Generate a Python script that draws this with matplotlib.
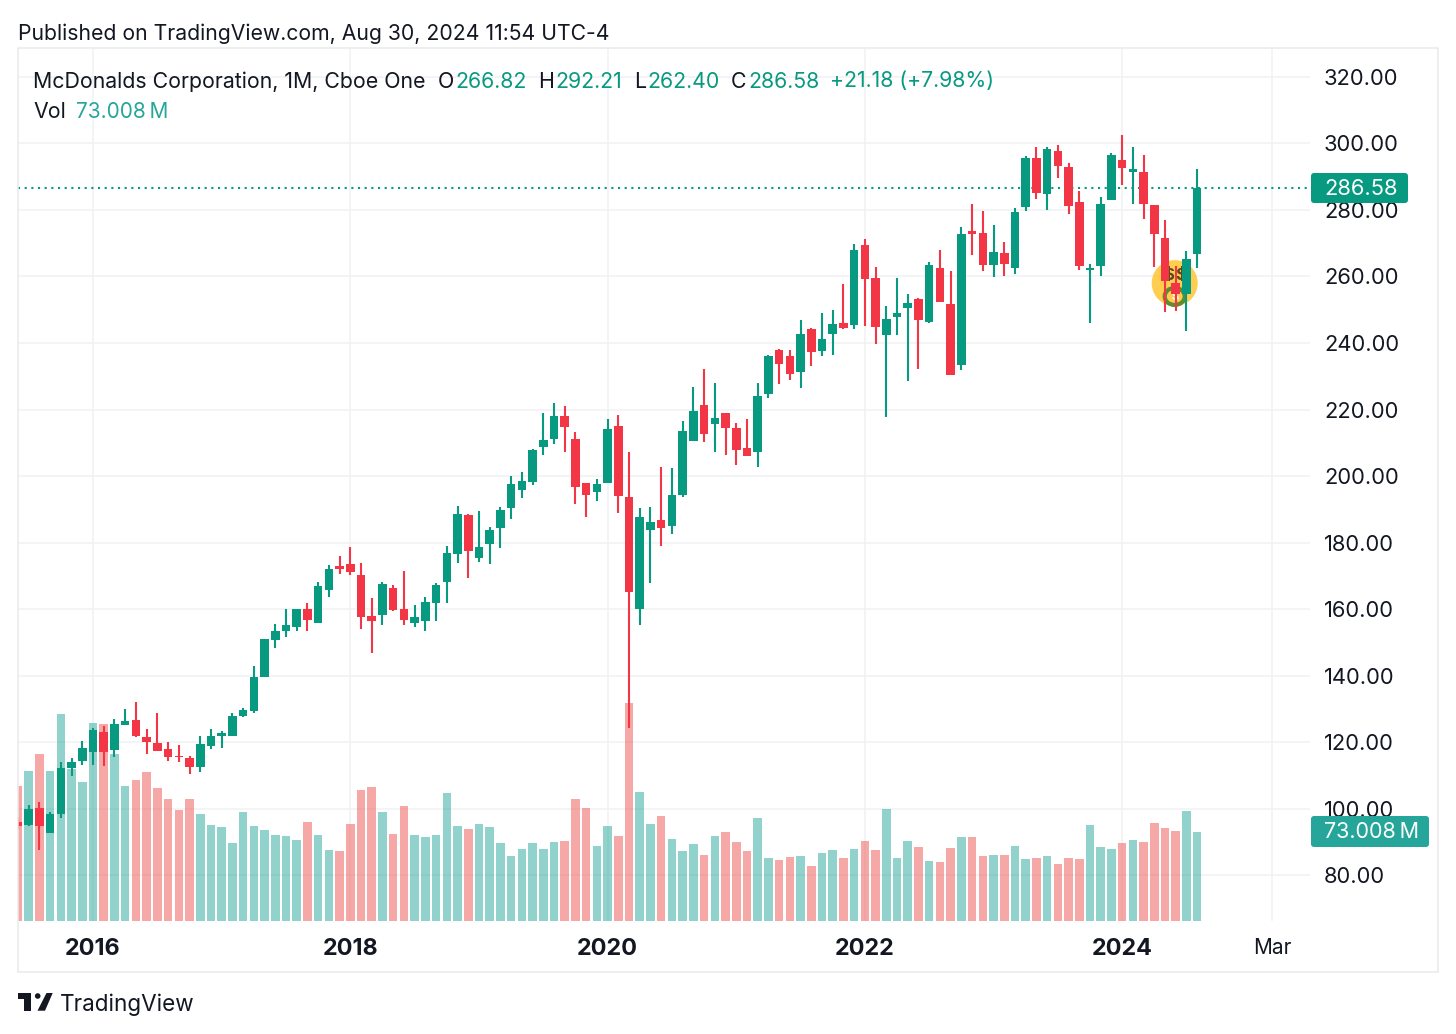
import numpy as np
import matplotlib
matplotlib.use('Agg')
import matplotlib.pyplot as plt
from matplotlib.patches import Ellipse, Rectangle, Circle, Polygon, FancyBboxPatch

plt.rcParams['font.family'] = ['Inter', 'DejaVu Sans']

# monthly candles, Jun 2015 .. Aug 2024
opens = [95.84, 95.04, 100.05, 92.74, 98.35, 112.28, 114.39,
         117.1, 123.11, 117.7, 125.12, 126.52, 121.41, 119.6, 117.8, 115.89, 115.09, 112.58, 118.8,
         121.81, 121.81, 127.92, 129.43, 139.66, 150.68, 153.39, 154.7, 160.0, 155.9, 165.6, 172.9,
         173.6, 170.2, 157.9, 158.3, 166.4, 159.9, 155.9, 156.4, 161.7, 168.1, 176.5, 188.3,
         175.2, 179.45, 184.5, 190.5, 195.9, 198.3, 208.7, 211.2, 218.05, 211.0, 197.8, 195.3,
         198.0, 215.0, 193.8, 160.1, 183.8, 186.8, 184.9, 194.2, 210.6, 221.5, 215.75, 218.85,
         214.45, 208.5, 207.2, 224.67, 237.9, 236.0, 231.4, 244.3, 237.7, 242.8, 245.9, 245.5,
         269.5, 259.55, 242.3, 247.9, 250.6, 253.2, 246.3, 262.5, 251.7, 233.5, 273.6, 273.0,
         263.6, 267.1, 262.5, 281.0, 295.6, 284.8, 297.75, 292.9, 282.4, 262.0, 263.0, 283.0,
         295.0, 291.5, 291.3, 281.4, 271.5, 257.95, 254.6, 266.82]
highs = [97.5, 101.06, 101.86, 98.95, 114.09, 115.09, 120.2,
         124.11, 124.82, 126.82, 129.83, 131.93, 123.91, 128.63, 119.9, 119.1, 115.79, 121.81, 123.91,
         123.41, 128.83, 130.13, 142.86, 151.1, 155.5, 160.0, 160.0, 161.9, 168.0, 173.2, 175.9,
         178.75, 173.7, 163.2, 168.0, 167.1, 171.5, 161.1, 163.5, 167.7, 179.05, 190.9, 188.5,
         189.5, 184.8, 190.6, 200.0, 201.2, 208.0, 219.05, 222.06, 221.06, 213.3, 197.8, 199.0,
         217.25, 218.35, 207.2, 190.3, 190.6, 202.6, 202.3, 216.65, 226.9, 232.1, 227.9, 219.05,
         216.05, 217.15, 227.9, 236.4, 238.1, 237.9, 246.9, 244.5, 248.9, 249.9, 257.75, 269.8,
         271.2, 262.76, 251.2, 259.65, 254.7, 253.4, 264.5, 267.9, 261.5, 274.9, 281.7, 279.8,
         275.4, 270.4, 280.5, 296.2, 298.85, 299.05, 299.45, 294.0, 285.6, 263.7, 283.8, 297.0,
         302.4, 298.85, 296.5, 281.6, 277.0, 263.2, 267.7, 292.21]
lows = [94.0, 94.84, 87.52, 92.74, 97.25, 109.88, 113.09,
        113.09, 112.79, 115.49, 125.12, 121.61, 116.29, 117.4, 114.19, 114.09, 110.38, 110.88, 118.0,
        118.1, 121.81, 127.62, 128.6, 139.66, 148.4, 151.7, 153.4, 153.4, 155.9, 163.6, 170.6,
        170.3, 153.9, 146.9, 155.2, 159.3, 155.2, 154.7, 153.4, 156.5, 161.9, 173.9, 169.2,
        174.2, 173.4, 178.4, 187.0, 193.3, 197.4, 206.3, 209.5, 207.3, 191.5, 187.8, 192.6,
        198.0, 188.8, 124.2, 155.2, 167.9, 179.0, 182.7, 193.8, 210.6, 210.1, 207.3, 206.3,
        203.3, 206.1, 202.8, 223.6, 227.8, 228.9, 226.5, 233.2, 236.2, 236.4, 244.2, 244.2,
        245.2, 239.6, 217.85, 242.4, 228.7, 232.3, 246.1, 252.3, 230.5, 231.8, 266.5, 261.65,
        259.8, 260.2, 260.6, 279.8, 283.4, 280.1, 289.5, 278.9, 262.0, 245.9, 260.0, 283.0,
        287.4, 281.8, 277.2, 262.8, 249.2, 249.5, 243.7, 262.4]
closes = [94.84, 99.75, 94.84, 98.35, 112.08, 113.89, 118.1,
          123.61, 117.1, 125.42, 126.32, 121.91, 120.1, 117.4, 115.49, 115.49, 112.58, 119.4, 121.81,
          122.61, 127.82, 129.63, 139.7, 150.88, 153.29, 155.2, 160.0, 156.7, 166.92, 172.0, 171.9,
          171.1, 157.7, 156.3, 167.5, 159.7, 156.6, 157.6, 162.1, 167.2, 176.8, 188.5, 177.5,
          178.75, 183.9, 189.8, 197.6, 198.4, 207.8, 210.7, 218.05, 214.6, 196.7, 194.3, 197.6,
          214.0, 194.0, 165.2, 187.7, 186.3, 184.3, 194.3, 213.4, 219.55, 212.7, 217.35, 214.35,
          207.7, 206.1, 224.07, 236.1, 233.8, 230.8, 242.6, 237.2, 241.1, 245.6, 244.4, 268.0,
          259.25, 244.8, 247.2, 249.1, 252.0, 246.9, 263.4, 252.3, 230.5, 272.8, 272.7, 263.6,
          267.4, 263.9, 279.5, 295.6, 285.1, 298.35, 293.1, 281.1, 263.3, 262.5, 281.9, 296.5,
          292.5, 292.3, 281.9, 272.9, 258.65, 254.7, 265.2, 286.58]
volumes = [110.7, 123, 137, 123, 170, 125, 114,
           162.7, 162, 137, 110.5, 115.4, 122.2, 109.1, 100.4, 90.8, 100.4, 88.1, 78.5,
           76.9, 64.3, 89.2, 77.7, 74.7, 70.3, 69.5, 66.4, 81.2, 70.3, 58.5, 57.1,
           79.3, 107.2, 109.9, 89.1, 71.1, 94.6, 70.3, 68.6, 70.3, 104.7, 77.7, 75.2,
           79.8, 76.8, 64.0, 53.3, 58.8, 64.0, 58.8, 64.5, 65.3, 100.4, 92.4, 61.2,
           77.7, 69.5, 178.6, 106.1, 79.8, 85.9, 67.3, 57.1, 62.9, 54.1, 69.4, 72.7,
           64.5, 57.1, 84.2, 51.9, 49.8, 52.8, 53.3, 45.4, 55.5, 58.0, 51.4, 58.8,
           65.3, 58.0, 91.6, 51.9, 65.3, 60.7, 48.9, 48.1, 59.9, 68.6, 68.6, 53.3,
           54.1, 54.1, 61.2, 50.6, 51.9, 53.3, 46.8, 51.9, 50.6, 78.5, 60.7, 59.3,
           63.7, 66.7, 64.5, 80.7, 76.0, 73.8, 90.0, 73.0]

price_ticks = [80, 100, 120, 140, 160, 180, 200, 220, 240, 260, 280, 300, 320]
time_ticks = [0, 24, 48, 72, 96, 110]  # months after Jan 2016
time_labels = ['2016', '2018', '2020', '2022', '2024', 'Mar']

GREEN = '#089981'
RED = '#F23645'
VOL_GREEN = '#26A69A'
VOL_RED = '#EF5350'
GRID = '#F0F1F3'
TEXT = '#131722'
W, H = 1456, 1034

opens, highs, lows, closes, volumes = map(np.array, (opens, highs, lows, closes, volumes))
x = np.arange(len(opens)) - 7
up = closes >= opens

fig = plt.figure(figsize=(W / 100, H / 100), dpi=100, facecolor='white')

# pane is 18..1310 x 48..921 in pixels
rect = [18 / W, 1 - 921 / H, (1310 - 18) / W, (921 - 48) / H]
xlim = (-7.0, -7.0 + (1310 - 18) / 10.72)
ylim = (66.2, 328.7)

ax = fig.add_axes(rect, zorder=1)
ax.set_xlim(xlim)
ax.set_ylim(ylim)
ax.yaxis.tick_right()
ax.set_yticks(price_ticks)
ax.set_yticklabels([f'{p:.2f}' for p in price_ticks], fontsize=15.8, color=TEXT)
ax.set_xticks(time_ticks)
ax.set_xticklabels(time_labels, fontsize=16.8, color=TEXT, fontweight='bold')
ax.get_xticklabels()[-1].set_fontweight('normal')
ax.get_xticklabels()[-1].set_fontsize(15)
ax.tick_params(length=0)
ax.tick_params(axis='y', pad=10)
ax.tick_params(axis='x', pad=12.5)
ax.grid(True, color=GRID, linewidth=1.1)
ax.set_axisbelow(True)
for s in ax.spines.values():
    s.set_visible(False)

# volume sits in its own axis, 1.219 px per million
ax_vol = fig.add_axes(rect, zorder=2)
ax_vol.set_xlim(xlim)
ax_vol.set_ylim(0, (921 - 48) / 1.219)
ax_vol.patch.set_visible(False)
ax_vol.axis('off')
ax_vol.bar(x, volumes, width=0.8, color=[VOL_GREEN if u else VOL_RED for u in up], alpha=0.5, linewidth=0)

# candles on top
ax_c = fig.add_axes(rect, zorder=3)
ax_c.set_xlim(xlim)
ax_c.set_ylim(ylim)
ax_c.patch.set_visible(False)
ax_c.axis('off')

# money face behind the candles
ax_c.add_patch(Ellipse((100.9, 258), 46 / 10.72, 46 * 0.30075, color='#FFC83D', alpha=0.9, zorder=1, lw=0))
ax_c.add_patch(Ellipse((100.9, 254), 20 / 10.72, 17 * 0.30075, fc='none', ec='#5E8C31', lw=3, zorder=1.1))
ax_c.text(100.9, 253.8, '$', fontsize=8, fontweight='bold', color='white', ha='center', va='center', zorder=1.15)
ax_c.text(100.3, 260.4, '$', fontsize=12, fontweight='bold', color='#5b4a1a', ha='center', va='center', zorder=1.2)
ax_c.text(101.5, 260.4, '$', fontsize=12, fontweight='bold', color='#5b4a1a', ha='center', va='center', zorder=1.2)

colors = [GREEN if u else RED for u in up]
ax_c.vlines(x, lows, highs, colors=colors, linewidth=1.5, zorder=2)
ax_c.bar(x, np.abs(closes - opens), bottom=np.minimum(opens, closes), width=0.8, color=colors, linewidth=0, zorder=3)
ax_c.axhline(closes[-1], color=GREEN, linewidth=1.5, linestyle=(0, (1, 2.2)), zorder=1.5)

# header, badges, frame, logo in pixel coordinates
ov = fig.add_axes([0, 0, 1, 1], zorder=4)
ov.set_xlim(0, W)
ov.set_ylim(H, 0)
ov.axis('off')
ov.add_patch(Rectangle((17.5, 48), 1420.5, 923.5, fc='none', ec='#E9EAEE', lw=1.1))

ov.text(18, 33.5, 'Published on TradingView.com, Aug 30, 2024 11:54 UTC-4', fontsize=15.25, color=TEXT, va='center')
ov.text(33, 81.5, 'McDonalds Corporation, 1M, Cboe One', fontsize=15.35, color=TEXT, va='center')
for px, s, c in [(438, 'O', TEXT), (455, '266.82', GREEN), (538, 'H', TEXT), (555, '292.21', GREEN),
                 (634, 'L', TEXT), (647, '262.40', GREEN), (731, 'C', TEXT), (748, '286.58', GREEN),
                 (830, '+21.18 (+7.98%)', GREEN)]:
    ov.text(px, 81.5, s, fontsize=15.35, color=c, va='center')
ov.text(33, 111.5, 'Vol', fontsize=15.35, color=TEXT, va='center')
ov.text(76, 111.5, '73.008\u2009M', fontsize=15, color=VOL_GREEN, va='center')

ov.add_patch(FancyBboxPatch((1311, 173), 97, 30, boxstyle='round,pad=0,rounding_size=3', fc=GREEN, ec='none'))
ov.text(1324, 189, f'{closes[-1]:.2f}', fontsize=15.8, color='white', va='center')
ov.add_patch(FancyBboxPatch((1311, 816), 118, 31, boxstyle='round,pad=0,rounding_size=3', fc=VOL_GREEN, ec='none'))
ov.text(1324, 832, '73.008\u2009M', fontsize=15.5, color='white', va='center')

# logo
ov.add_patch(Polygon([(18, 993), (31, 993), (31, 1010.7), (24, 1010.7), (24, 999), (18, 999)], fc=TEXT, ec='none'))
ov.add_patch(Circle((37.7, 996), 2.8, fc=TEXT, ec='none'))
ov.add_patch(Polygon([(37.5, 1010.7), (46.5, 993), (52.7, 993), (45, 1010.7)], fc=TEXT, ec='none'))
ov.text(60, 1004.5, 'TradingView', fontsize=16.2, color=TEXT, va='center')

fig.savefig('out.png', dpi=100)
